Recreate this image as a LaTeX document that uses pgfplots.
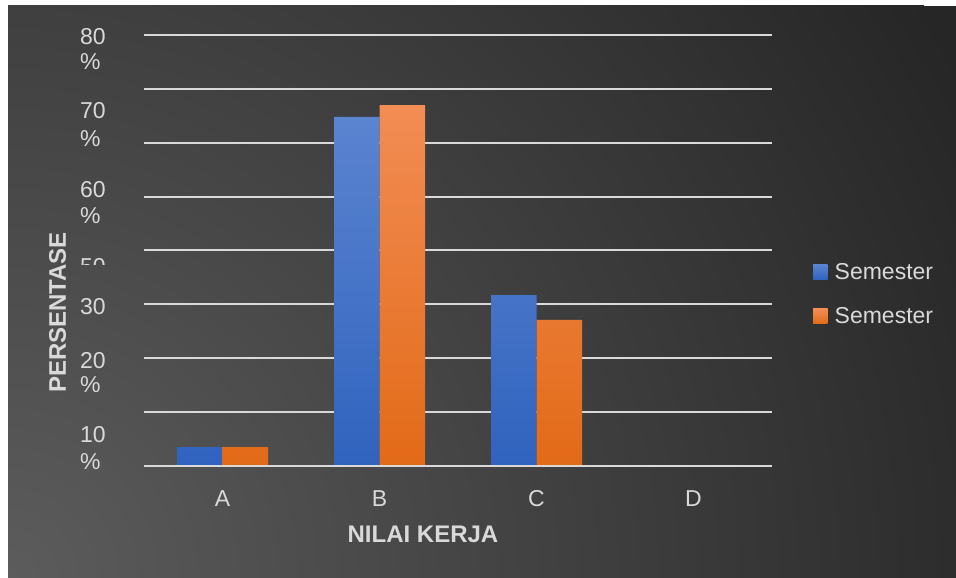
\documentclass[border=0pt]{standalone}
\usepackage{pgfplots}
\pgfplotsset{compat=1.18}
\usepackage{fontspec}
\setmainfont{Liberation Sans}
\definecolor{bgdark}{HTML}{262626}
\definecolor{bglight}{HTML}{5C5C5C}
\definecolor{txt}{HTML}{D9D9D9}
\definecolor{blueT}{HTML}{5B84D0}
\definecolor{blueB}{HTML}{3063BE}
\definecolor{orT}{HTML}{F28D55}
\definecolor{orB}{HTML}{E26A17}
\newcommand{\tickfont}{\fontsize{23}{27}\selectfont}
\newcommand{\labfont}{\fontsize{24}{28}\selectfont\bfseries}
\begin{document}
\begin{tikzpicture}[x=1pt,y=1pt]
\useasboundingbox (0,0) rectangle (956,578);
\fill[white] (0,0) rectangle (956,578);
\begin{scope}
\clip (8,0) rectangle (956,572);
\fill[bgdark] (8,0) rectangle (956,572);
\shade[inner color=bglight, outer color=bgdark] (8,0) circle (1080);
\end{scope}

\begin{axis}[
  at={(144pt,112pt)}, anchor=south west,
  scale only axis, width=628pt, height=431pt,
  xmin=-0.5, xmax=3.5, ymin=0, ymax=80,
  ybar=0pt, bar width=45.5pt,
  xtick={0,1,2,3}, xticklabels={A,B,C,D},
  ytick={0,10,...,80}, yticklabels={},
  major tick length=0pt,
  ymajorgrids, grid style={txt, line width=2pt},
  axis line style={draw=none},
  xticklabel style={font=\tickfont, text=txt, yshift=-21pt},
  legend style={at={(1.0605,0.399)}, anchor=west, draw=none, fill=none,
    font=\tickfont, text=txt, row sep=23pt,
    /tikz/every odd column/.append style={column sep=5pt}},
  legend cell align=left,
  legend image code/.code={\fill[#1] (0pt,-7.5pt) rectangle (14.5pt,7.5pt);},
]
\addplot[draw=none, top color=blueT, bottom color=blueB] coordinates {(0,3.5) (1,64.8) (2,31.7)};
\addplot[draw=none, top color=orT, bottom color=orB] coordinates {(0,3.5) (1,67.0) (2,27.1)};
\legend{Semester, Semester}
\draw[txt, line width=2.5pt] (rel axis cs:0,0) -- (rel axis cs:1,0);
\end{axis}

\begin{scope}[every node/.style={font=\tickfont, text=txt, anchor=base west, inner sep=0pt}]
\node at (80,533) {80};
\node at (80,508) {\%};
\node at (80,459) {70};
\node at (80,431) {\%};
\node at (80,380) {60};
\node at (80,354) {\%};
\node at (80,263) {30};
\node at (80,209) {20};
\node at (80,185) {\%};
\node at (80,135) {10};
\node at (80,108) {\%};
\begin{scope}
\clip (70,313) rectangle (120,330);
\node at (80,303) {50};
\end{scope}
\end{scope}

\node[font=\labfont, text=txt, rotate=90, inner sep=0pt] at (57.5,265.5) {PERSENTASE};
\node[font=\labfont, text=txt, anchor=base, inner sep=0pt] at (423,35) {NILAI KERJA};
\end{tikzpicture}
\end{document}
